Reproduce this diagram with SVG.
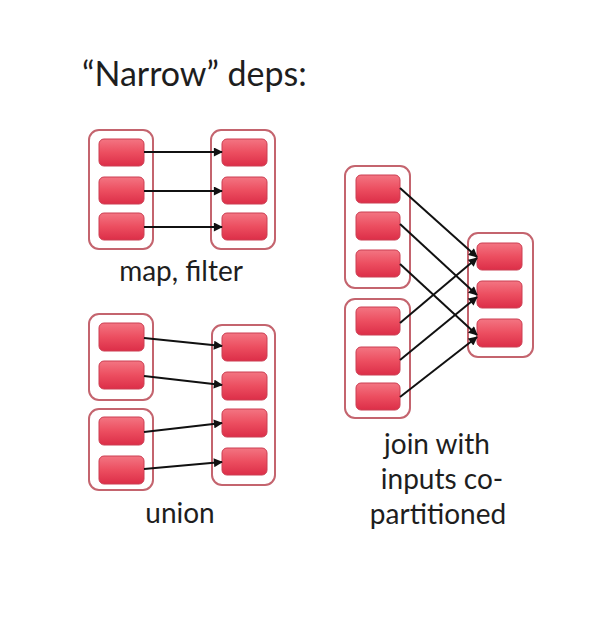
<svg xmlns="http://www.w3.org/2000/svg" width="592" height="624" viewBox="0 0 592 624">
<defs>
<linearGradient id="g" x1="0" y1="0" x2="0" y2="1">
<stop offset="0" stop-color="#f37582"/>
<stop offset="0.5" stop-color="#ec4e60"/>
<stop offset="1" stop-color="#dc2e48"/>
</linearGradient>
<marker id="ah" viewBox="0 0 10 10" refX="9" refY="5" markerWidth="10" markerHeight="9" markerUnits="userSpaceOnUse" orient="auto">
<path d="M0,0 L10,5 L0,10 z" fill="#111"/>
</marker>
</defs>
<style>
.c{fill:#fff;stroke:#c4646e;stroke-width:2}
.b{fill:url(#g);stroke:#cc3e52;stroke-width:1}
.a{stroke:#111;stroke-width:2;fill:none;marker-end:url(#ah)}
text{font-family:Lato,"Open Sans",sans-serif;fill:#1e1e1e}
.t{font-size:28px;text-anchor:middle}
</style>
<rect width="592" height="624" fill="#fff"/>
<text x="82" y="86" font-size="34">“Narrow” deps:</text>

<g id="mf-src">
<rect class="c" x="89" y="130" width="64" height="119" rx="10"/>
<rect class="b" x="99" y="139" width="45" height="27" rx="5"/>
<rect class="b" x="99" y="177" width="45" height="27" rx="5"/>
<rect class="b" x="99" y="213" width="45" height="27" rx="5"/>
</g>
<g id="mf-dst">
<rect class="c" x="211" y="130" width="64" height="119" rx="10"/>
<rect class="b" x="222" y="139" width="45" height="27" rx="5"/>
<rect class="b" x="222" y="177" width="45" height="27" rx="5"/>
<rect class="b" x="222" y="213" width="45" height="27" rx="5"/>
</g>
<text class="t" x="181" y="281">map, filter</text>

<g id="un-src1">
<rect class="c" x="89" y="314" width="64" height="86" rx="10"/>
<rect class="b" x="99" y="323" width="45" height="28" rx="5"/>
<rect class="b" x="99" y="361" width="45" height="28" rx="5"/>
</g>
<g id="un-src2">
<rect class="c" x="89" y="409" width="64" height="81" rx="10"/>
<rect class="b" x="99" y="417" width="45" height="28" rx="5"/>
<rect class="b" x="99" y="456" width="45" height="28" rx="5"/>
</g>
<g id="un-dst">
<rect class="c" x="212" y="325" width="63" height="160" rx="10"/>
<rect class="b" x="222" y="333" width="45" height="28" rx="5"/>
<rect class="b" x="222" y="372" width="45" height="28" rx="5"/>
<rect class="b" x="222" y="409" width="45" height="28" rx="5"/>
<rect class="b" x="222" y="448" width="45" height="27" rx="5"/>
</g>
<text class="t" x="180" y="523">union</text>

<g id="jn-src1">
<rect class="c" x="345" y="166" width="65" height="122" rx="10"/>
<rect class="b" x="356" y="175" width="44" height="28" rx="5"/>
<rect class="b" x="356" y="212" width="44" height="28" rx="5"/>
<rect class="b" x="356" y="250" width="44" height="27" rx="5"/>
</g>
<g id="jn-src2">
<rect class="c" x="345" y="299" width="65" height="119" rx="10"/>
<rect class="b" x="356" y="307" width="44" height="28" rx="5"/>
<rect class="b" x="356" y="347" width="44" height="28" rx="5"/>
<rect class="b" x="356" y="383" width="44" height="27" rx="5"/>
</g>
<g id="jn-dst">
<rect class="c" x="468" y="233" width="65" height="124" rx="10"/>
<rect class="b" x="477" y="243" width="45" height="27" rx="5"/>
<rect class="b" x="477" y="281" width="45" height="27" rx="5"/>
<rect class="b" x="477" y="319" width="45" height="28" rx="5"/>
</g>
<text class="t" x="437" y="454">join with</text>
<text class="t" x="442" y="489">inputs co-</text>
<text class="t" x="438" y="524">partitioned</text>

<g id="connectors">
<line class="a" x1="144" y1="152" x2="222" y2="152"/>
<line class="a" x1="144" y1="191" x2="222" y2="191"/>
<line class="a" x1="144" y1="227" x2="222" y2="227"/>
<line class="a" x1="144" y1="338" x2="222" y2="346"/>
<line class="a" x1="144" y1="376" x2="222" y2="385"/>
<line class="a" x1="144" y1="432" x2="222" y2="423"/>
<line class="a" x1="144" y1="469" x2="222" y2="462"/>
<line class="a" x1="400" y1="188" x2="477" y2="257"/>
<line class="a" x1="400" y1="224" x2="477" y2="295"/>
<line class="a" x1="400" y1="264" x2="477" y2="335"/>
<line class="a" x1="400" y1="323" x2="477" y2="258"/>
<line class="a" x1="400" y1="360" x2="477" y2="297"/>
<line class="a" x1="400" y1="397" x2="477" y2="337"/>
</g>
</svg>
